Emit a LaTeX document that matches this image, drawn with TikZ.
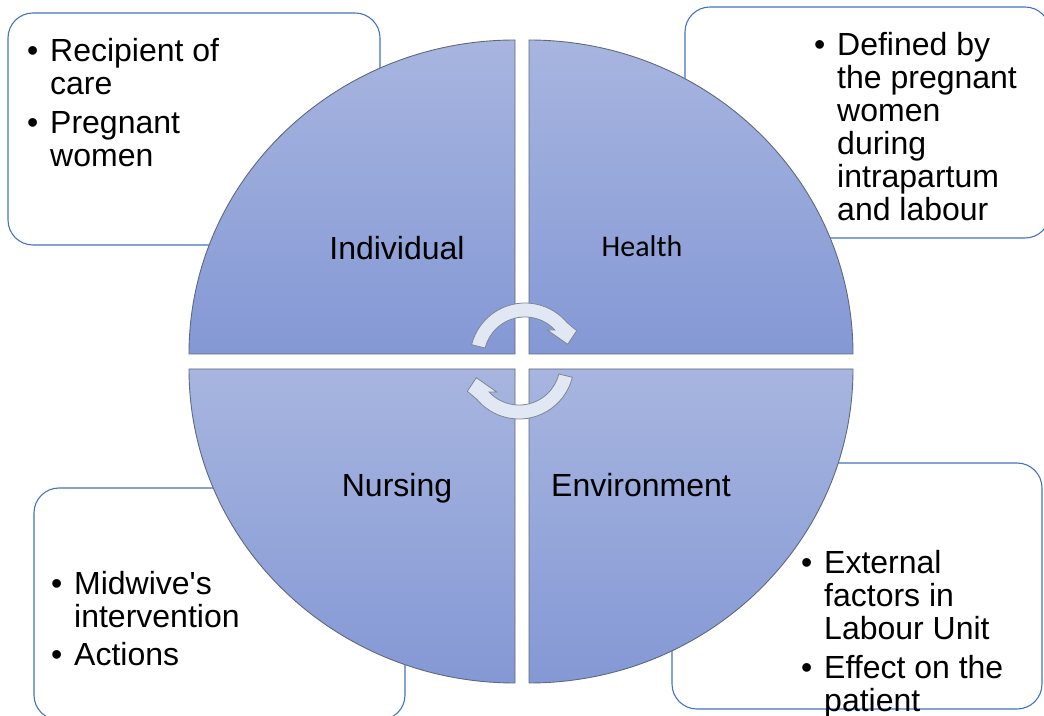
\documentclass[tikz,border=0pt]{standalone}
\usepackage{fontspec}
\setmainfont{Liberation Sans}
\newfontfamily\healthfont{Carlito}
\font\straightfont="Liberation Sans" at 32pt
\usetikzlibrary{positioning, backgrounds}

\definecolor{boxline}{RGB}{68,114,196}
\definecolor{quadtop}{RGB}{167,181,223}
\definecolor{quadbottom}{RGB}{132,152,213}
\definecolor{quadline}{RGB}{95,105,125}
\definecolor{arrowfill}{RGB}{226,231,244}
\definecolor{arrowline}{RGB}{125,135,150}

\newcommand{\bitem}{\makebox[23pt][l]{•}}
\newcommand{\bcont}{\hspace*{23pt}}

\begin{document}
\begin{tikzpicture}[x=1pt, y=1pt,
  infobox/.style={draw=boxline, line width=1.1pt, fill=white, rounded corners=25pt},
  quadrant/.style={draw=quadline, line width=0.9pt, top color=quadtop, bottom color=quadbottom},
  cyclearrow/.style={draw=arrowline, line width=0.8pt, fill=arrowfill},
  bullets/.style={anchor=north west, inner sep=0pt, align=left, font=\fontsize{32}{33}\selectfont},
  quadlabel/.style={anchor=base, inner sep=0pt, font=\fontsize{32}{33}\selectfont}]

\useasboundingbox (0,0) rectangle (1044,715);
\fill[white] (0,0) rectangle (1044,715);

% boxes behind the circle
\draw[infobox] (8,470) rectangle (380,702);
\draw[infobox] (685,477) rectangle (1050,708);
\draw[infobox] (34,-5) rectangle (405,227);
\draw[infobox] (672,6) rectangle (1042,252);

% four quadrants
\draw[quadrant] (515,361) -- ++(-326,0) arc[start angle=180, end angle=90, x radius=326, y radius=314] -- cycle;
\draw[quadrant] (529,361) -- ++(0,314) arc[start angle=90, end angle=0, x radius=324, y radius=314] -- cycle;
\draw[quadrant] (515,346) -- ++(0,-314) arc[start angle=270, end angle=180, x radius=326, y radius=314] -- cycle;
\draw[quadrant] (529,346) -- ++(324,0) arc[start angle=0, end angle=-90, x radius=324, y radius=314] -- cycle;

% turning arrows in the middle
\draw[cyclearrow, shift={(525,357)}] (166:55) arc[start angle=166, end angle=40, radius=55] -- (51.7,27.3) -- (42.7,13.7) -- (22.3,28) -- (29.9,28) arc[start angle=43, end angle=166, radius=41] -- cycle;
\draw[cyclearrow, shift={(519,351)}, rotate=180] (166:55) arc[start angle=166, end angle=40, radius=55] -- (51.7,27.3) -- (42.7,13.7) -- (22.3,28) -- (29.9,28) arc[start angle=43, end angle=166, radius=41] -- cycle;

\node[quadlabel] (individual) at (397,455) {Individual};
\node[anchor=base, inner sep=0pt, font=\healthfont\fontsize{30}{30}\selectfont] (health) at (642,458) {Health};
\node[quadlabel] (nursing) at (397,218) {Nursing};
\node[quadlabel] (environment) at (641,218) {Environment};

\node[bullets] (individualtext) at (27,677) {\bitem Recipient of\\ \bcont care\\[6pt] \bitem Pregnant\\ \bcont women};
\node[bullets] (healthtext) at (814,683) {\bitem Defined by\\ \bcont the pregnant\\ \bcont women\\ \bcont during\\ \bcont intrapartum\\ \bcont and labour};
\node[bullets] (nursingtext) at (51,144) {\bitem {\straightfont Midwive's}\\ \bcont intervention\\[5pt] \bitem Actions};
\node[bullets] (environmenttext) at (801,165) {\bitem External\\ \bcont factors in\\ \bcont Labour Unit\\[6pt] \bitem Effect on the\\ \bcont patient};

\end{tikzpicture}
\end{document}
